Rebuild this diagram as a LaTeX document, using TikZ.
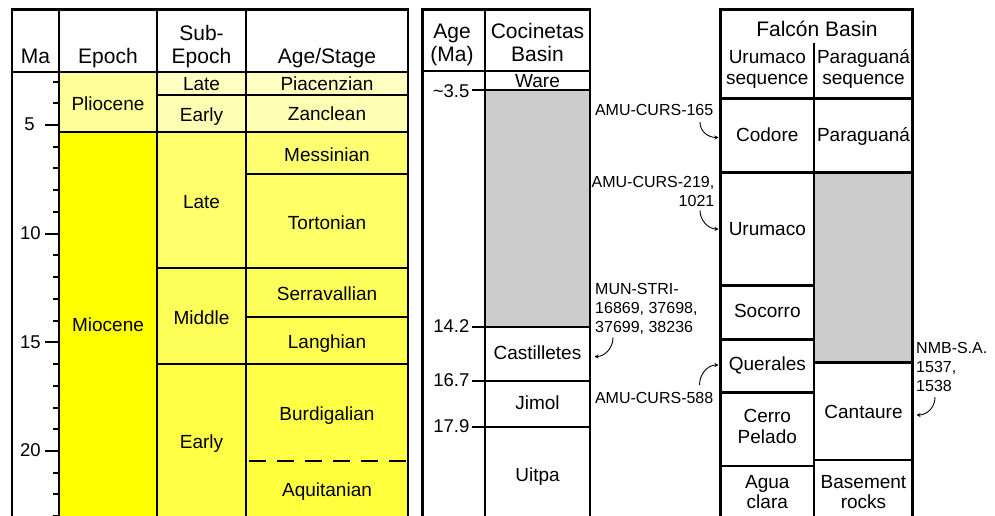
\documentclass[tikz,border=0pt]{standalone}
\usepackage{fontspec}
\setmainfont{Liberation Sans}
\usetikzlibrary{arrows.meta}
\definecolor{plio}{HTML}{FFFF99}
\definecolor{mio}{HTML}{FFFF00}
\definecolor{lplio}{HTML}{FFFFC2}
\definecolor{eplio}{HTML}{FFFFB3}
\definecolor{lmio}{HTML}{FFFF6B}
\definecolor{mmio}{HTML}{FFFF59}
\definecolor{emio}{HTML}{FFFF45}
\definecolor{mess}{HTML}{FFFF70}
\definecolor{tort}{HTML}{FFFF66}
\definecolor{serr}{HTML}{FFFF5C}
\definecolor{lang}{HTML}{FFFF52}
\definecolor{burd}{HTML}{FFFF45}
\definecolor{aqui}{HTML}{FFFF3D}
\definecolor{gap}{HTML}{CCCCCC}
\begin{document}
\begin{tikzpicture}[x=1pt,y=-1pt,
  hd/.style={font=\fontsize{21}{23}\selectfont, anchor=base, inner sep=0pt, align=center},
  bd/.style={font=\fontsize{19}{21}\selectfont, anchor=base, inner sep=0pt, align=center},
  tl/.style={font=\fontsize{18.5}{21}\selectfont, anchor=base, inner sep=0pt},
  sm/.style={font=\fontsize{16}{19.3}\selectfont, anchor=base, inner sep=0pt},
  frame/.style={line width=2.8pt},
  inner/.style={line width=2.5pt},
  tk/.style={line width=2pt},
  ann/.style={line width=0.9pt, -{Stealth[length=4pt,width=4pt]}}]
\useasboundingbox (0,0) rectangle (995,515);
\fill[white] (0,0) rectangle (995,515);
\clip (0,0) rectangle (995,515);

% ---------- left table fills ----------
\fill[plio] (59,72) rectangle (157,132);
\fill[mio] (59,132) rectangle (157,520);
\fill[lplio] (157,72) rectangle (408,95);
\fill[eplio] (157,95) rectangle (408,132);
\fill[lmio] (157,132) rectangle (246,268);
\fill[mmio] (157,268) rectangle (246,364);
\fill[emio] (157,364) rectangle (246,520);
\fill[mess] (246,132) rectangle (408,174);
\fill[tort] (246,174) rectangle (408,268);
\fill[serr] (246,268) rectangle (408,317);
\fill[lang] (246,317) rectangle (408,364);
\fill[burd] (246,364) rectangle (408,461);
\fill[aqui] (246,461) rectangle (408,520);

% ---------- left table lines ----------
\draw[inner] (12,72) -- (408,72);
\draw[inner] (59,9.5) -- (59,520);
\draw[inner] (157,9.5) -- (157,520);
\draw[inner] (246,9.5) -- (246,520);
\draw[inner] (59,132) -- (408,132);
\draw[inner] (157,95) -- (408,95);
\draw[inner] (246,174) -- (408,174);
\draw[inner] (157,268) -- (408,268);
\draw[inner] (246,317) -- (408,317);
\draw[inner] (157,364) -- (408,364);
\draw[inner, dash pattern=on 17pt off 11pt] (248.5,461) -- (406,461);
\draw[frame] (12,520) -- (12,9.5) -- (408,9.5) -- (408,520);

% ticks
\foreach \m in {3,4,6,7,8,9,11,12,13,14,16,17,18,19,21,22,23}
  \draw[tk] (53,{125+(\m-5)*21.73}) -- (59,{125+(\m-5)*21.73});
\foreach \m in {5,10,15,20}
  \draw[tk] (45,{125+(\m-5)*21.73}) -- (59,{125+(\m-5)*21.73});
\node[tl] (t5) at (29.5,130.8) {5};
\node[tl] (t10) at (30.3,239.1) {10};
\node[tl] (t15) at (30.3,348.5) {15};
\node[tl] (t20) at (30.3,456.6) {20};

% headers
\node[hd] (hMa) at (35.5,63.3) {Ma};
\node[hd] (hEp) at (108,63.3) {Epoch};
\node[hd] (hSub1) at (201.5,40.3) {Sub-};
\node[hd] (hSub2) at (201.5,63.3) {Epoch};
\node[hd] (hAge) at (327,63.3) {Age/Stage};

% body
\node[bd] (plioT) at (108,110) {Pliocene};
\node[bd] (mioT) at (108,331.7) {Miocene};
\node[bd] (lpT) at (201.5,90.7) {Late};
\node[bd] (epT) at (201.5,121.3) {Early};
\node[bd] (lmT) at (201.5,208.3) {Late};
\node[bd] (mmT) at (201.5,324) {Middle};
\node[bd] (emT) at (201.5,448.3) {Early};
\node[bd] (piaT) at (327,90.7) {Piacenzian};
\node[bd] (zanT) at (327,120.5) {Zanclean};
\node[bd] (mesT) at (327,161.7) {Messinian};
\node[bd] (torT) at (327,229.3) {Tortonian};
\node[bd] (serT) at (327,300.7) {Serravallian};
\node[bd] (lanT) at (327,348.3) {Langhian};
\node[bd] (burT) at (327,420) {Burdigalian};
\node[bd] (aquT) at (327,496.7) {Aquitanian};

% ---------- middle table ----------
\fill[gap] (485,90.3) rectangle (590,326.7);
\draw[inner] (422.7,71) -- (590,71);
\draw[inner] (485,9.5) -- (485,520);
\draw[tk] (472,90.3) -- (590,90.3);
\draw[tk] (472,326.7) -- (590,326.7);
\draw[tk] (472,381) -- (590,381);
\draw[tk] (472,427.3) -- (590,427.3);
\draw[frame] (422.7,520) -- (422.7,9.5) -- (590,9.5) -- (590,520);

\node[hd] (mAge1) at (452,38.3) {Age};
\node[hd] (mAge2) at (452,61.7) {(Ma)};
\node[hd] (mCoc1) at (537.5,38.3) {Cocinetas};
\node[hd] (mCoc2) at (537.5,61.7) {Basin};
\node[tl, anchor=base east] (a35) at (469.5,97.3) {\char`\~3.5};
\node[tl, anchor=base east] (a142) at (469.5,332.7) {14.2};
\node[tl, anchor=base east] (a167) at (469.5,386.7) {16.7};
\node[tl, anchor=base east] (a179) at (469.5,432.7) {17.9};
\node[bd] (ware) at (537.5,87) {Ware};
\node[bd] (cast) at (537.5,359.3) {Castilletes};
\node[bd] (jimol) at (537.5,409.3) {Jimol};
\node[bd] (uitpa) at (537.5,481.5) {Uitpa};

% ---------- right table ----------
\fill[gap] (814,172.7) rectangle (912.7,362.7);
\draw[inner] (720.7,98.7) -- (912.7,98.7);
\draw[inner] (720.7,172.7) -- (912.7,172.7);
\draw[inner] (814,43) -- (814,520);
\draw[inner] (720.7,285.7) -- (814,285.7);
\draw[inner] (720.7,339.3) -- (814,339.3);
\draw[inner] (720.7,392.3) -- (814,392.3);
\draw[inner] (720.7,466) -- (814,466);
\draw[inner] (814,362.7) -- (912.7,362.7);
\draw[inner] (814,460) -- (912.7,460);
\draw[frame] (720.7,520) -- (720.7,9.5) -- (912.7,9.5) -- (912.7,520);

\node[hd] (fal) at (817,36.7) {Falcón Basin};
\node[bd] (uh1) at (767.3,63.3) {Urumaco};
\node[bd] (uh2) at (767.3,84.3) {sequence};
\node[bd] (ph1) at (863.5,63.3) {Paraguaná};
\node[bd] (ph2) at (863.5,84.3) {sequence};
\node[bd] (codore) at (767.3,141.7) {Codore};
\node[bd] (parag) at (863.5,141.7) {Paraguaná};
\node[bd] (uru) at (767.3,235) {Urumaco};
\node[bd] (soc) at (767.3,317.3) {Socorro};
\node[bd] (que) at (767.3,370.7) {Querales};
\node[bd] (cer1) at (767.3,422.3) {Cerro};
\node[bd] (cer2) at (767.3,443.3) {Pelado};
\node[bd] (agu1) at (767.3,488.3) {Agua};
\node[bd] (agu2) at (767.3,508.3) {clara};
\node[bd] (cant) at (863.5,418.3) {Cantaure};
\node[bd] (bas1) at (863.5,488.3) {Basement};
\node[bd] (bas2) at (863.5,508.3) {rocks};

% ---------- annotations ----------
\node[sm, anchor=base east] (l165) at (713.5,115) {AMU-CURS-165};
\node[sm, anchor=base east] (l219a) at (714.5,187.3) {AMU-CURS-219,};
\node[sm, anchor=base east] (l219b) at (714.5,206.5) {1021};
\node[sm, anchor=base west] (lmun1) at (595,294) {MUN-STRI-};
\node[sm, anchor=base west] (lmun2) at (595,313.3) {16869, 37698,};
\node[sm, anchor=base west] (lmun3) at (595,332.6) {37699, 38236};
\node[sm, anchor=base east] (l588) at (713.5,403) {AMU-CURS-588};
\node[sm, anchor=base west] (lnmb1) at (916,353) {NMB-S.A.};
\node[sm, anchor=base west] (lnmb2) at (916,372.3) {1537,};
\node[sm, anchor=base west] (lnmb3) at (916,391.6) {1538};

\coordinate (s1) at (700,122);   \coordinate (e1) at (718.5,137.5);
\coordinate (s2) at (700,210.5); \coordinate (e2) at (718.5,229);
\coordinate (s3) at (613,337.5); \coordinate (e3) at (594.5,356.5);
\coordinate (s4) at (699.5,385); \coordinate (e4) at (718.5,365);
\coordinate (s5) at (935,397);   \coordinate (e5) at (916.5,415);
\draw[ann] (s1) .. controls +(0,10) and +(-10,0) .. (e1);
\draw[ann] (s2) .. controls +(0,10) and +(-10,0) .. (e2);
\draw[ann] (s3) .. controls +(0,11) and +(10,0) .. (e3);
\draw[ann] (s4) .. controls +(0,-11) and +(-11,0) .. (e4);
\draw[ann] (s5) .. controls +(0,11) and +(10,0) .. (e5);
\end{tikzpicture}
\end{document}
